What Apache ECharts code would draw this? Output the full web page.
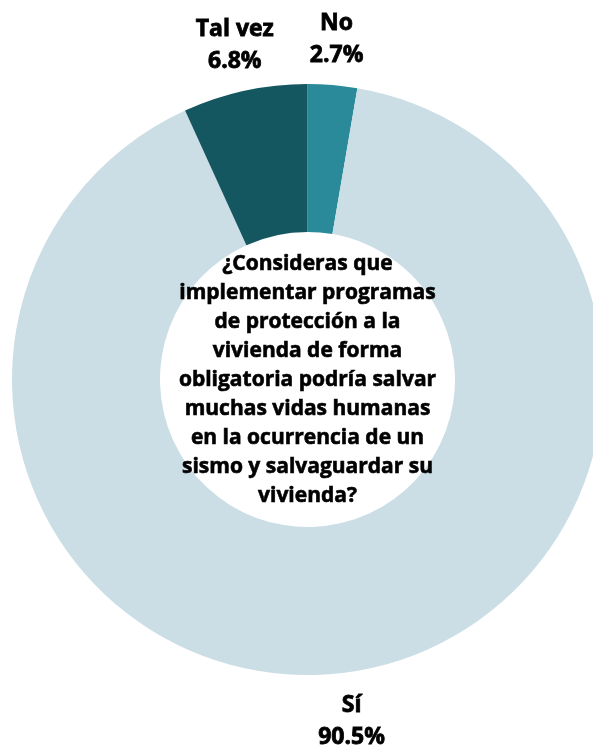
<!DOCTYPE html>
<html>
<head>
<meta charset="utf-8">
<script src="https://cdn.jsdelivr.net/npm/echarts@6/dist/echarts.min.js"></script>
<style>
  html, body { margin: 0; padding: 0; background: #fff; }
  #main { width: 593px; height: 749px; }
</style>
</head>
<body>
<div id="main"></div>
<script>
// answers, clockwise from the top
const categories = ['No', 'Sí', 'Tal vez'];
const percents = [2.7, 90.5, 6.8];
const colors = ['#2b8a9a', '#cbdee5', '#155760'];

const question = [
  '¿Consideras que',
  'implementar programas',
  'de protección a la',
  'vivienda de forma',
  'obligatoria podría salvar',
  'muchas vidas humanas',
  'en la ocurrencia de un',
  'sismo y salvaguardar su',
  'vivienda?',
];

const font = '"Open Sans", "Noto Sans", sans-serif';

const myChart = echarts.init(document.getElementById('main'));

const pieData = categories.map((name, i) => ({
  name,
  value: percents[i],
  itemStyle: { color: colors[i] },
}));

const option = {
  animation: false,
  series: [
    {
      // the donut itself
      type: 'pie',
      center: [307.5, 379.5],
      radius: [147.5, 295.5],
      startAngle: 90,
      clockwise: true,
      silent: true,
      label: { show: false },
      labelLine: { show: false },
      data: pieData,
    },
    {
      // invisible ring, only used to place the labels outside
      type: 'pie',
      center: [307.5, 381],
      radius: [325, 355],
      startAngle: 90,
      clockwise: true,
      silent: true,
      itemStyle: { color: 'transparent' },
      label: {
        show: true,
        position: 'inside',
        formatter: (p) => `${p.name}\n${p.value.toFixed(1)}%`,
        color: '#000',
        fontFamily: font,
        fontWeight: 'bold',
        fontSize: 23,
        lineHeight: 32,
        textBorderColor: '#000',
        textBorderWidth: 0.8,
        align: 'center',
      },
      labelLine: { show: false },
      data: categories.map((name, i) => ({ name, value: percents[i] })),
    },
  ],
  graphic: [
    {
      type: 'text',
      x: 307.5,
      y: 380.5,
      z: 100,
      zlevel: 1,
      style: {
        text: question.join('\n'),
        fill: '#000',
        font: `bold 21px ${font}`,
        lineHeight: 29,
        align: 'center',
        verticalAlign: 'middle',
        stroke: '#000',
        lineWidth: 0.6,
      },
    },
  ],
};

myChart.setOption(option);
</script>
</body>
</html>
